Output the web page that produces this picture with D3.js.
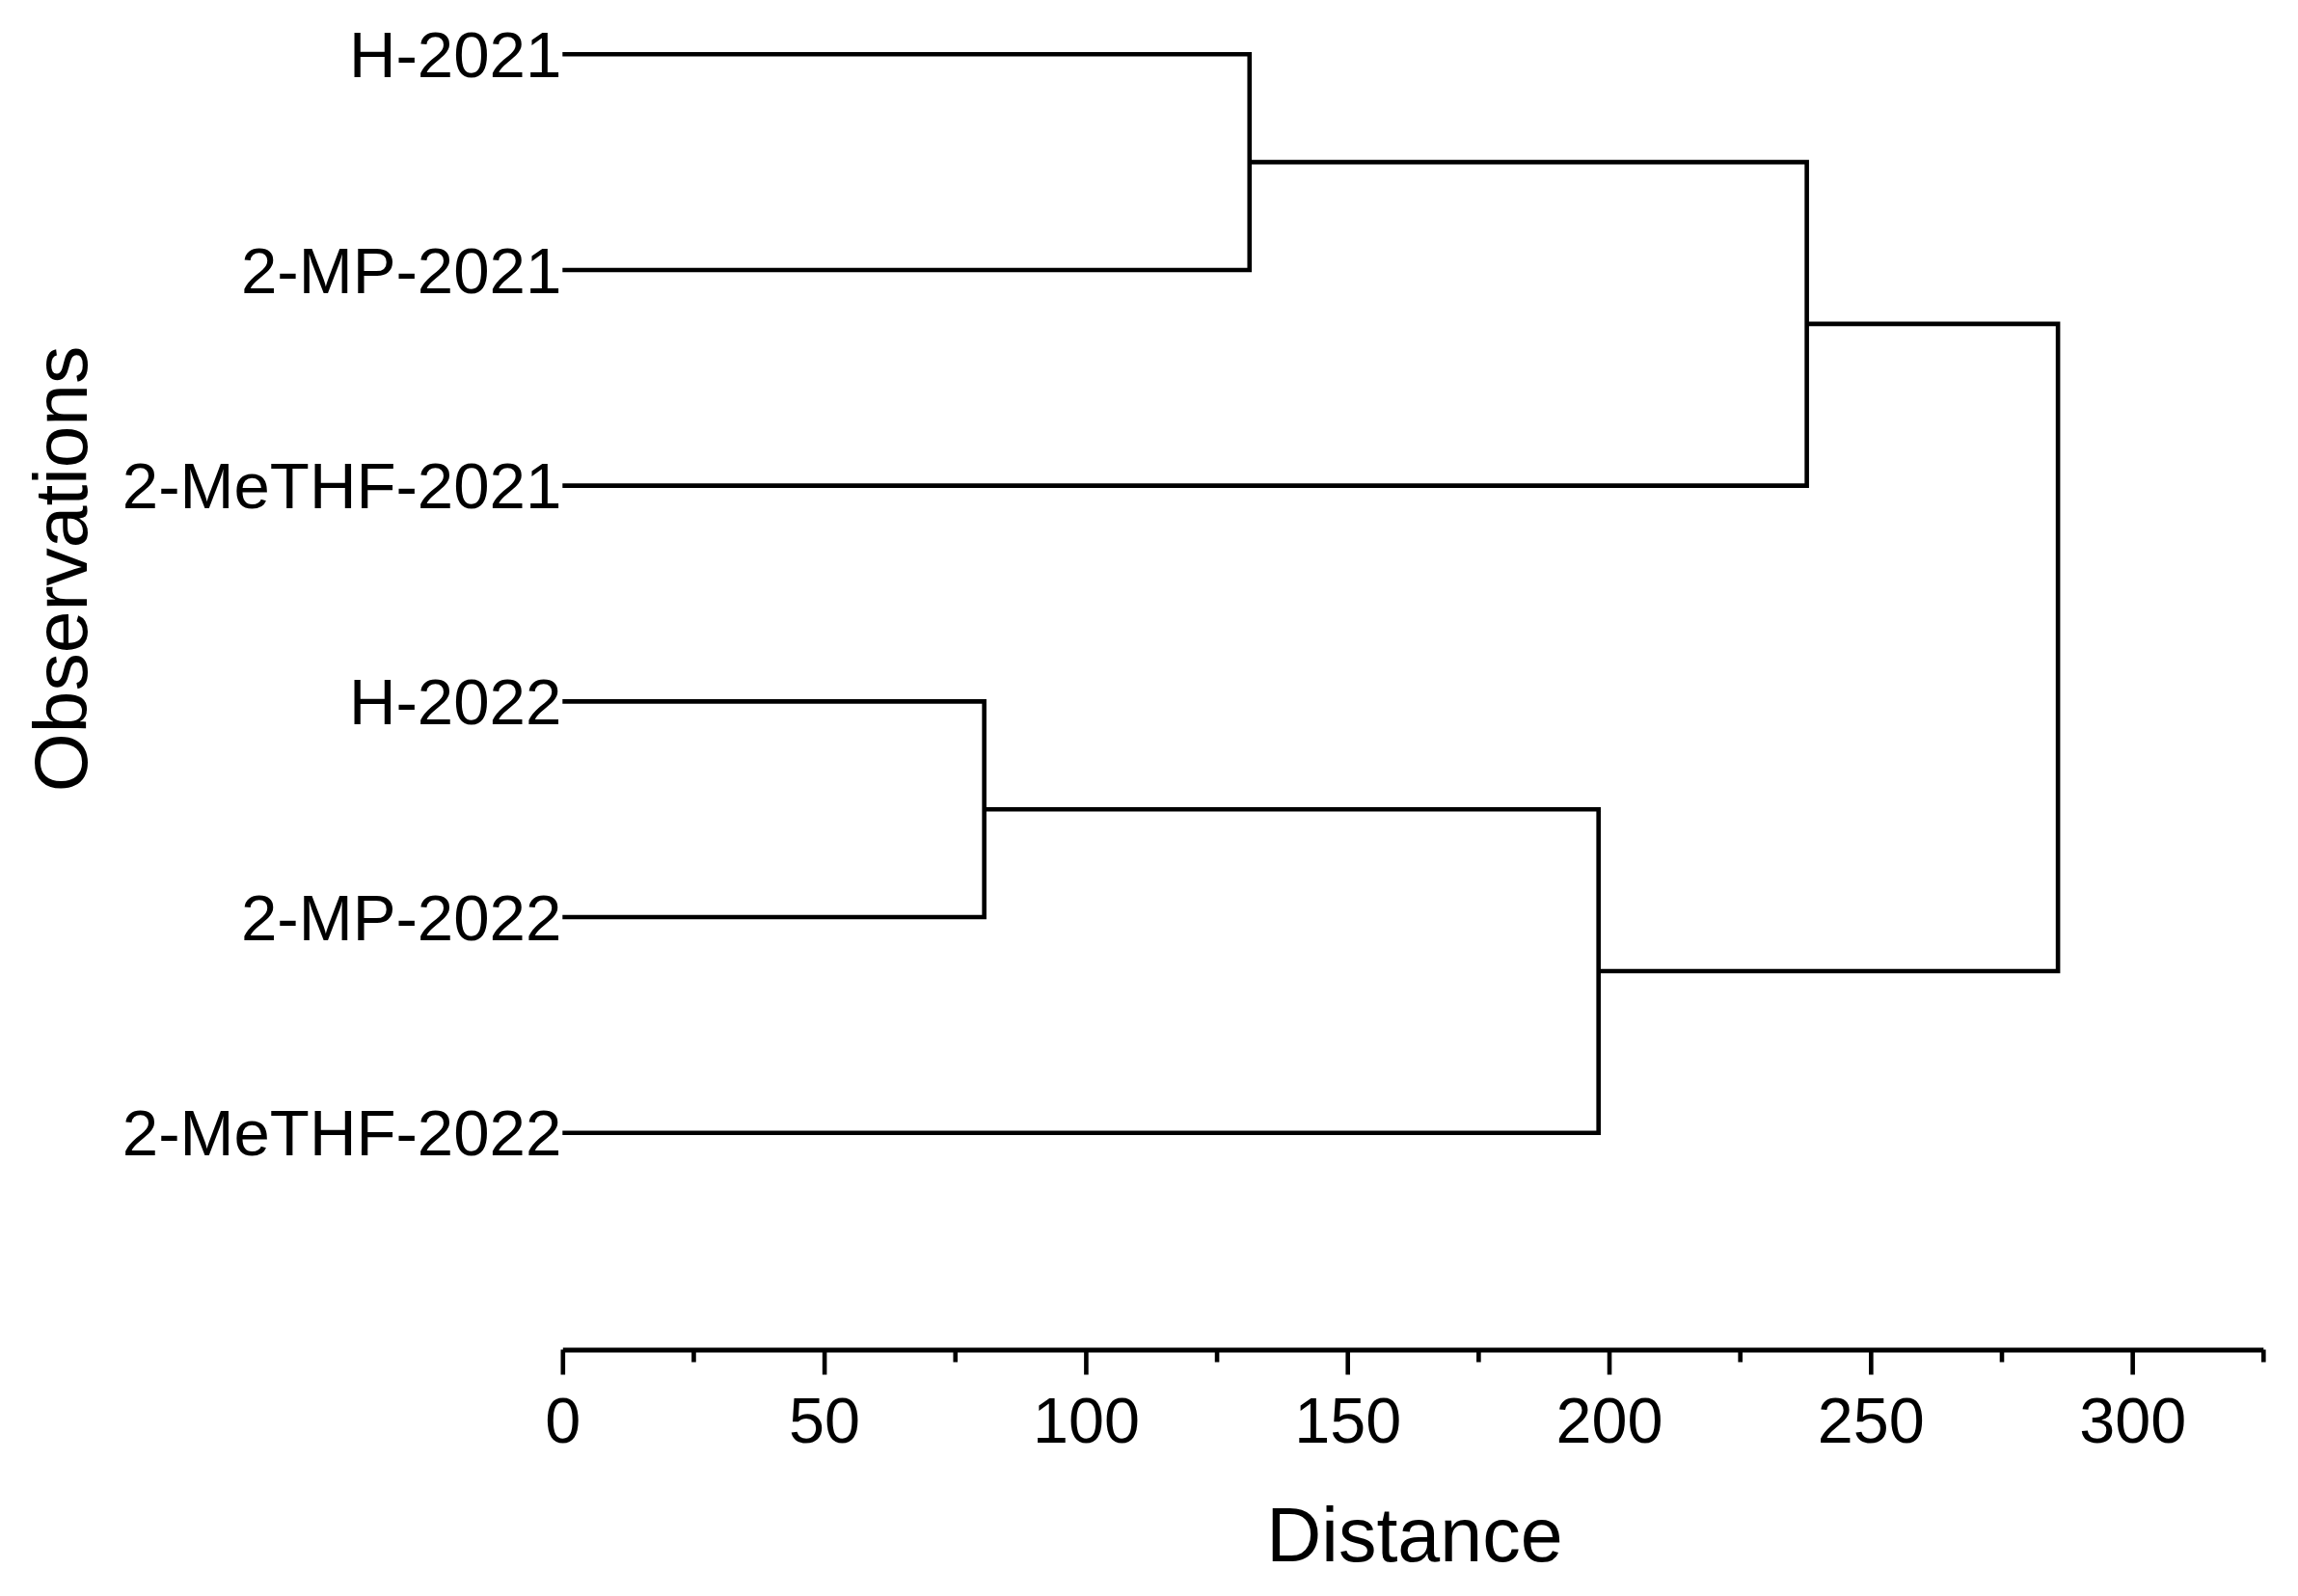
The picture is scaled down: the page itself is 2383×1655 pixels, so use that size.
<!DOCTYPE html>
<html>
<head>
<meta charset="utf-8">
<script src="https://cdn.jsdelivr.net/npm/d3@7"></script>
<style>
  html, body { margin: 0; padding: 0; background: #fff; }
  svg { display: block; }
  text { font-family: "Liberation Sans", Arial, Helvetica, sans-serif; fill: #000; }
</style>
</head>
<body>
<svg id="chart" width="2383" height="1655"></svg>
<script>
// ---- data ----
const leaves = ["H-2021", "2-MP-2021", "2-MeTHF-2021", "H-2022", "2-MP-2022", "2-MeTHF-2022"];
const clusterIds = ["C1", "C2", "C3", "C4", "C5"];
const clusterChildren = [
  ["H-2021", "2-MP-2021"],
  ["C1", "2-MeTHF-2021"],
  ["H-2022", "2-MP-2022"],
  ["C3", "2-MeTHF-2022"],
  ["C2", "C4"]
];
const clusterHeights = [131.3, 237.8, 80.6, 198.0, 285.8];
const majorTicks = [0, 50, 100, 150, 200, 250, 300];
const minorTicks = [25, 75, 125, 175, 225, 275, 325];
const xLabel = "Distance";
const yLabel = "Observations";

// ---- layout ----
const W = 2383, H = 1655;
const axisY = 1399.5;
const x = d3.scaleLinear().domain([0, 325]).range([583.3, 2346.8]);
const y = d3.scalePoint().domain(leaves).range([56.3, 1174.7]);

const svg = d3.select("#chart");
const LW = 4.6;

// node positions
const nodes = {};
leaves.forEach(l => { nodes[l] = { h: 0, y: y(l) }; });
clusterIds.forEach((id, i) => {
  const [a, b] = clusterChildren[i];
  nodes[id] = { h: clusterHeights[i], y: (nodes[a].y + nodes[b].y) / 2 };
});

// links
const g = svg.append("g");
clusterIds.forEach((id, i) => {
  const [a, b] = clusterChildren[i];
  const n = nodes[id], na = nodes[a], nb = nodes[b];
  const p = d3.path();
  p.moveTo(x(na.h), na.y);
  p.lineTo(x(n.h), na.y);
  p.lineTo(x(n.h), nb.y);
  p.lineTo(x(nb.h), nb.y);
  g.append("path")
    .attr("d", p.toString())
    .attr("fill", "none")
    .attr("stroke", "#000")
    .attr("stroke-width", LW)
    .attr("stroke-linejoin", "miter");
});

// leaf labels
svg.append("g").selectAll("text")
  .data(leaves)
  .join("text")
  .attr("x", x(0) - 1)
  .attr("y", d => y(d))
  .attr("dy", "0.35em")
  .attr("text-anchor", "end")
  .attr("font-size", 67.2)
  .text(d => d);

// x axis
const axisMajor = d3.axisBottom(x).tickValues(majorTicks).tickSize(26).tickSizeOuter(0).tickFormat(d3.format("d"));
const axisMinor = d3.axisBottom(x).tickValues(minorTicks).tickSize(13).tickSizeOuter(0).tickFormat("");

const gMinor = svg.append("g").attr("transform", `translate(0,${axisY})`).call(axisMinor);
gMinor.select(".domain").remove();
gMinor.selectAll(".tick line").attr("stroke", "#000").attr("stroke-width", LW);

const gMajor = svg.append("g").attr("transform", `translate(0,${axisY})`).call(axisMajor);
gMajor.select(".domain").attr("stroke", "#000").attr("stroke-width", 4.8);
gMajor.selectAll(".tick line").attr("stroke", "#000").attr("stroke-width", LW);
gMajor.selectAll(".tick text")
  .attr("y", 96.5)
  .attr("dy", 0)
  .attr("font-size", 66.5)
  .attr("font-family", '"Liberation Sans", Arial, sans-serif')
  .attr("fill", "#000");

// axis titles
svg.append("text")
  .attr("x", 1467)
  .attr("y", 1619)
  .attr("text-anchor", "middle")
  .attr("font-size", 79)
  .text(xLabel);

svg.append("text")
  .attr("transform", "translate(90,590) rotate(-90)")
  .attr("text-anchor", "middle")
  .attr("font-size", 78.5)
  .text(yLabel);
</script>
</body>
</html>
